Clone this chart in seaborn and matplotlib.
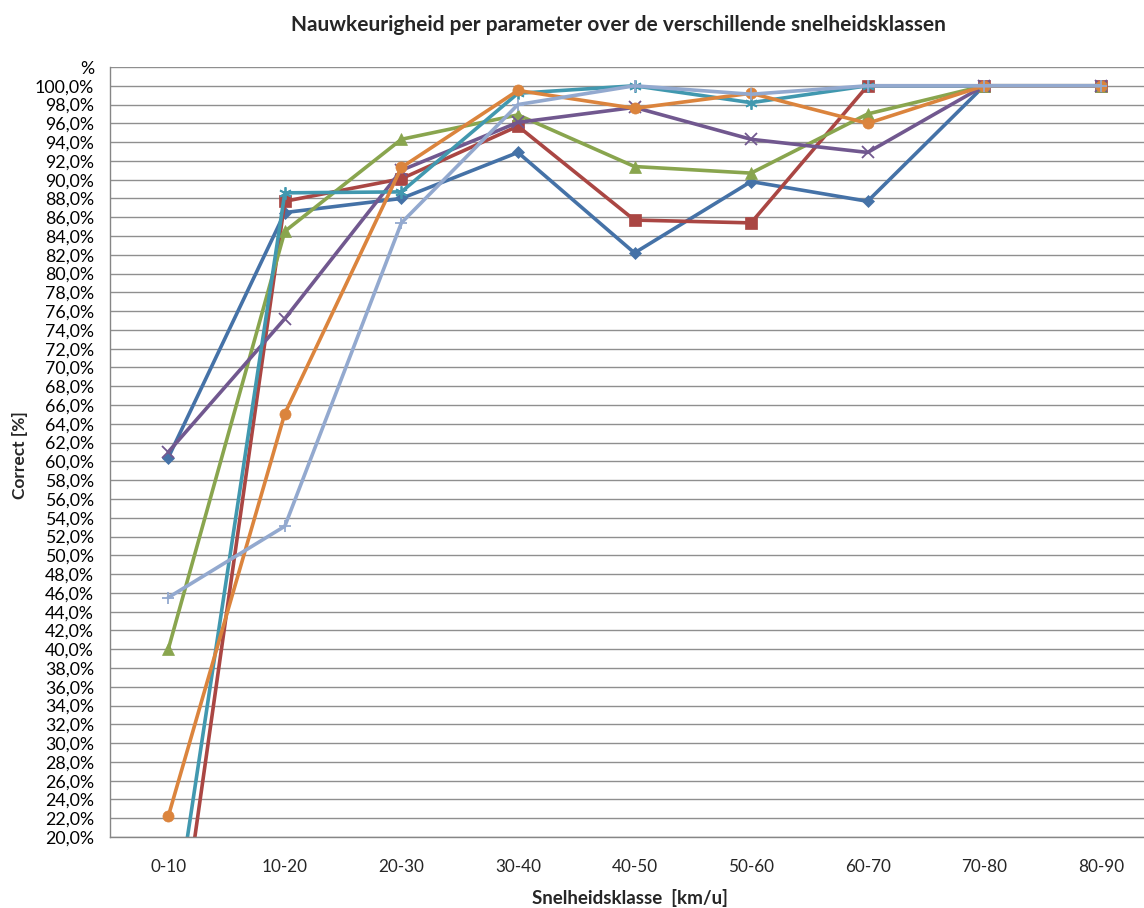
import numpy as np
import pandas as pd
import matplotlib
matplotlib.use("Agg")
import matplotlib.pyplot as plt
from matplotlib.ticker import FixedLocator
import seaborn as sns

categories = ["0-10", "10-20", "20-30", "30-40", "40-50", "50-60", "60-70", "70-80", "80-90"]

param_1 = [60.4, 86.5, 88.0, 92.9, 82.2, 89.8, 87.7, 100.0, 100.0]
param_2 = [0.0, 87.7, 90.1, 95.7, 85.7, 85.4, 100.0, 100.0, 100.0]
param_3 = [40.0, 84.5, 94.3, 96.9, 91.4, 90.7, 97.0, 100.0, 100.0]
param_4 = [61.0, 75.2, 91.0, 96.1, 97.7, 94.3, 92.9, 100.0, 100.0]
param_5 = [6.5, 88.6, 88.7, 99.2, 100.0, 98.2, 100.0, 100.0, 100.0]
param_6 = [22.2, 65.1, 91.3, 99.5, 97.6, 99.2, 96.0, 100.0, 100.0]
param_7 = [45.5, 53.1, 85.4, 98.0, 100.0, 99.1, 100.0, 100.0, 100.0]

series_names = ["Parameter 1", "Parameter 2", "Parameter 3", "Parameter 4",
                "Parameter 5", "Parameter 6", "Parameter 7"]
series_values = [param_1, param_2, param_3, param_4, param_5, param_6, param_7]
colors = ["#4572A7", "#AA4643", "#89A54E", "#71588F", "#4198AF", "#DB843D", "#93A9CF"]
markers = ["D", "s", "^", "x", (6, 2, 0), "o", "+"]
msizes = [6, 8, 8, 8, 9, 8, 9]

sns.set_style("white")
plt.rcParams['font.family'] = ['Lato', 'DejaVu Sans']

fig = plt.figure(figsize=(11.44, 9.08), dpi=100)
ax = fig.add_axes([110 / 1144, (908 - 837) / 908, (1159 - 110) / 1144, (837 - 67) / 908])

x = np.arange(len(categories))
for name, vals, c, m, ms in zip(series_names, series_values, colors, markers, msizes):
    df = pd.DataFrame({"x": x, "y": vals})
    sns.lineplot(data=df, x="x", y="y", ax=ax, color=c, linewidth=2.6,
                 marker=m, markersize=ms, markeredgecolor=c,
                 markeredgewidth=1.3 if m in ("x", "+") or isinstance(m, tuple) else 0.5,
                 label=name, legend=False, clip_on=True)

ax.set_xlim(-0.5, len(categories) - 0.5)
ax.set_ylim(20, 102)

yt = np.arange(20, 102.1, 2)
ax.yaxis.set_major_locator(FixedLocator(yt))
ylabels = [f"{v:.1f}%".replace(".", ",") for v in yt]
ylabels[-1] = "%"
ax.set_yticklabels(ylabels, fontsize=12.8, color="#000000")
ax.grid(axis="y", color="#8f8f8f", linewidth=1.0)
ax.set_axisbelow(True)

ax.xaxis.set_major_locator(FixedLocator(np.arange(-0.5, len(categories), 1.0)))
ax.set_xticklabels([""] * len(np.arange(-0.5, len(categories), 1.0)))
ax.xaxis.set_minor_locator(FixedLocator(x))
ax.set_xticklabels(categories, minor=True, fontsize=12.3)
ax.tick_params(axis="x", which="major", direction="out", length=4.5, color="#868686", width=1)
ax.tick_params(axis="x", which="minor", length=0, pad=16)
ax.tick_params(axis="y", direction="out", length=3.6, color="#868686", width=1, pad=8)

for s in ["top", "right"]:
    ax.spines[s].set_visible(False)
for s in ["left", "bottom"]:
    ax.spines[s].set_color("#868686")
    ax.spines[s].set_linewidth(1.0)

ax.set_xlabel("")
ax.set_ylabel("")
fig.text(618 / 1144, 1 - 25 / 908, "Nauwkeurigheid per parameter over de verschillende snelheidsklassen",
         ha="center", va="center", fontsize=15, fontweight="bold")
fig.text(630 / 1144, 1 - 898 / 908, "Snelheidsklasse  [km/u]", ha="center", va="center",
         fontsize=13.5, fontweight="bold")
fig.text(20 / 1144, 1 - 455 / 908, "Correct [%]", ha="center", va="center", rotation=90,
         fontsize=12.5, fontweight="bold")

fig.savefig("out.png", dpi=100)
